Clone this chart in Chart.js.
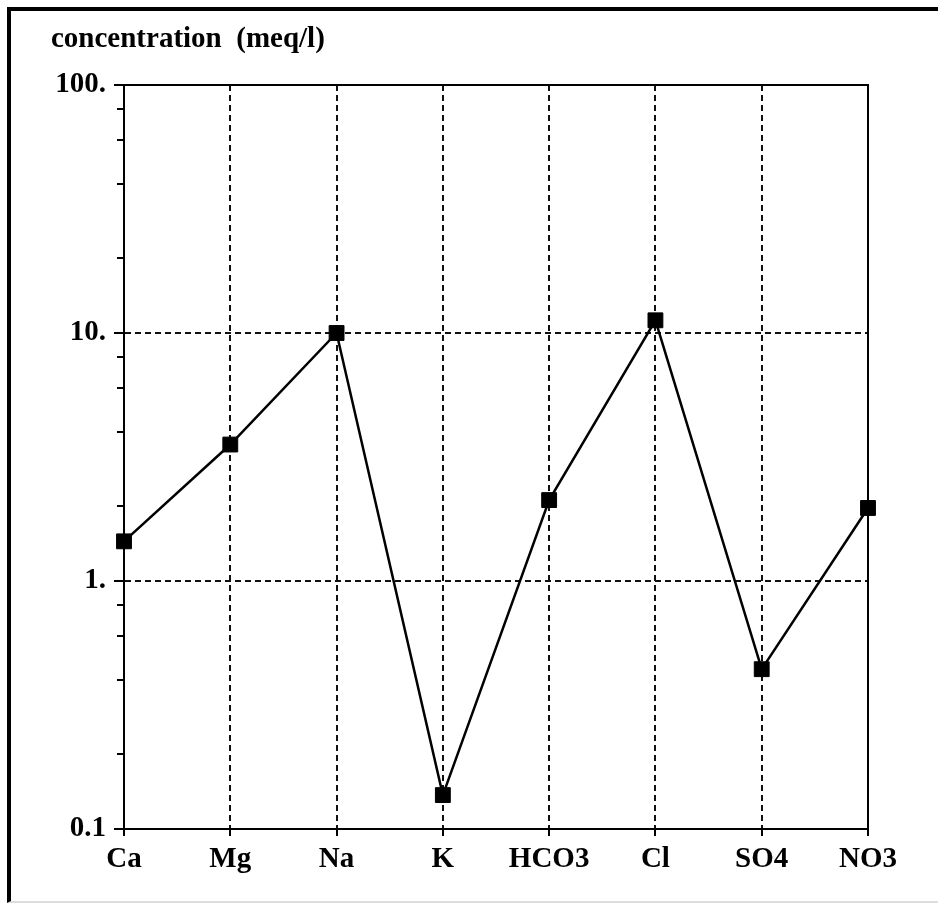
<!DOCTYPE html>
<html>
<head>
<meta charset="utf-8">
<script src="https://cdn.jsdelivr.net/npm/chart.js@4/dist/chart.umd.min.js"></script>
<style>
  html,body{margin:0;padding:0;background:#fff;overflow:hidden;}
  #frame{position:absolute;left:7px;top:7px;width:1000px;height:890px;border-left:4px solid #000;border-top:4px solid #000;border-bottom:2px solid #ddd;}
  #chart{position:absolute;left:0;top:0;}
</style>
</head>
<body>
<div id="frame"></div>
<canvas id="chart" width="938" height="904"></canvas>
<script>
// data
const titleText = 'concentration  (meq/l)';
const ions = ['Ca','Mg','Na','K','HCO3','Cl','SO4','NO3'];
const conc = [1.445, 3.55, 10.0, 0.137, 2.12, 11.25, 0.441, 1.97];
const majorTicks = [0.1, 1, 10, 100];
const majorLabels = ['0.1', '1.', '10.', '100.'];
const minorTicks = [0.2, 0.4, 0.6, 0.8, 2, 4, 6, 8, 20, 40, 60, 80];

const serif = '"Liberation Serif", "DejaVu Serif", serif';
const isMajor = v => majorTicks.some(m => Math.abs(m - v) < 1e-9);
const labelFor = v => { const i = majorTicks.findIndex(m => Math.abs(m - v) < 1e-9); return i < 0 ? '' : majorLabels[i]; };

// top/right edges of the plot box + the title
const framePlugin = {
  id: 'frame',
  beforeDatasetsDraw(chart){
    const {ctx, chartArea:a} = chart;
    ctx.save();
    ctx.strokeStyle = '#000'; ctx.lineWidth = 2;
    ctx.beginPath();
    ctx.moveTo(a.left, a.top); ctx.lineTo(a.right, a.top); ctx.lineTo(a.right, a.bottom);
    ctx.stroke();
    ctx.restore();
  },
  afterDraw(chart){
    const ctx = chart.ctx;
    ctx.save();
    ctx.font = `bold 29px ${serif}`;
    ctx.fillStyle = '#000';
    ctx.textBaseline = 'alphabetic';
    ctx.fillText(titleText, 51, 47);
    ctx.restore();
  }
};

new Chart(document.getElementById('chart'), {
  type: 'line',
  data: {
    labels: ions,
    datasets: [{
      data: conc,
      borderColor: '#000',
      borderWidth: 2.5,
      backgroundColor: '#000',
      pointStyle: 'rect',
      pointRadius: 10.5,
      pointBorderWidth: 1,
      pointBorderColor: '#000',
      pointBackgroundColor: '#000',
      tension: 0,
      clip: false
    }]
  },
  options: {
    responsive: false,
    animation: false,
    devicePixelRatio: 1,
    layout: {padding: {left: 0, top: 85, right: 70, bottom: 0}},
    plugins: {legend: {display: false}, tooltip: {enabled: false}, title: {display: false}},
    scales: {
      x: {
        type: 'category',
        offset: false,
        afterFit: s => { s.height = 75; },
        grid: {color: '#111', lineWidth: 2, tickColor: '#000', tickWidth: 2, tickLength: 7, offset: false},
        border: {color: '#000', width: 2, dash: [6, 4]},
        ticks: {color: '#000', padding: 6, font: {family: serif, size: 29, weight: 'bold'}, maxRotation: 0, autoSkip: false}
      },
      y: {
        type: 'logarithmic',
        min: 0.1,
        max: 100,
        afterFit: s => { s.width = 124; },
        afterBuildTicks: s => {
          s.ticks = [...majorTicks, ...minorTicks].sort((a, b) => a - b).map(v => ({value: v, major: isMajor(v)}));
        },
        grid: {
          color: c => (isMajor(c.tick.value) && c.tick.value !== 0.1 && c.tick.value !== 100) ? '#111' : 'rgba(0,0,0,0)',
          lineWidth: 2,
          tickColor: '#000',
          tickWidth: 2,
          tickLength: 10,
          tickBorderDash: c => isMajor(c.tick.value) ? [] : [0, 3, 100]
        },
        border: {color: '#000', width: 2, dash: [6, 4]},
        ticks: {
          color: '#000',
          padding: 8,
          autoSkip: false,
          font: {family: serif, size: 29, weight: 'bold'},
          callback: v => labelFor(v)
        }
      }
    }
  },
  plugins: [framePlugin]
});
</script>
</body>
</html>
